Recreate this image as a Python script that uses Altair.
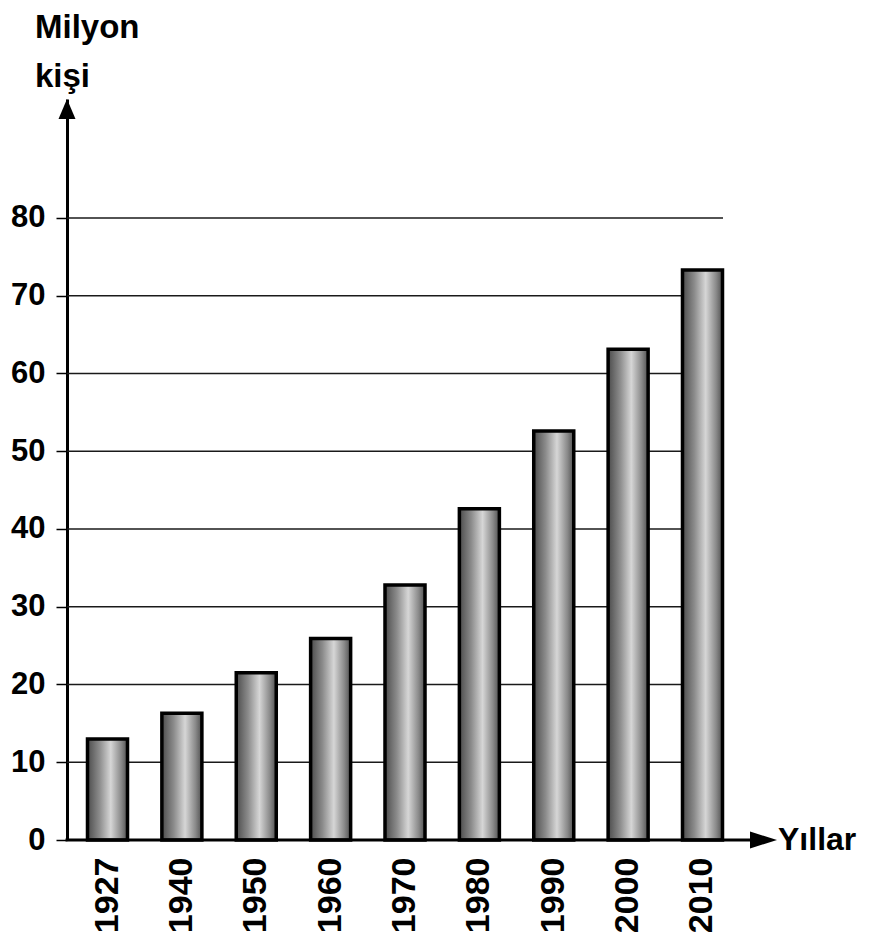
import altair as alt
import pandas as pd

# ---- data ----
years = ["1927", "1940", "1950", "1960", "1970", "1980", "1990", "2000", "2010"]
population = [13.0, 16.3, 21.5, 25.9, 32.8, 42.6, 52.6, 63.1, 73.3]
grid_values = [10, 20, 30, 40, 50, 60, 70, 80]
tick_values = [0, 10, 20, 30, 40, 50, 60, 70, 80]
y_title_lines = ["Milyon", "kişi"]
x_title = "Yıllar"

# ---- layout ----
W, H = 676, 741
Y_MAX = 95.3
FONT = "Liberation Sans"

bars_df = pd.DataFrame({"year": years, "population": population})
grid_df = pd.DataFrame({"value": grid_values})
one = pd.DataFrame({"k": [0]})

yscale = alt.Scale(domain=[0, Y_MAX], nice=False, zero=True)
xscale = alt.Scale(paddingInner=0.462, paddingOuter=0.2756)

y_axis = alt.Axis(values=tick_values, labelFontSize=31, labelFont=FONT,
                  labelFontWeight="bold", labelColor="black",
                  tickSize=11, tickWidth=1.5, tickColor="black",
                  labelPadding=11, domain=True, domainWidth=3,
                  domainColor="black", grid=False, title=None)

gradient = alt.LinearGradient(
    gradient="linear", x1=0, x2=1, y1=0, y2=0,
    stops=[
        alt.GradientStop(color="#4c4c4c", offset=0),
        alt.GradientStop(color="#8c8c8c", offset=0.3),
        alt.GradientStop(color="#d6d6d6", offset=0.58),
        alt.GradientStop(color="#8a8a8a", offset=0.84),
        alt.GradientStop(color="#505050", offset=1),
    ],
)

grid = alt.Chart(grid_df).mark_rule(color="#1a1a1a", strokeWidth=1.5).encode(
    x=alt.value(0), x2=alt.value(656),
    y=alt.Y("value:Q", scale=yscale, axis=y_axis, title=None),
)

bars = alt.Chart(bars_df).mark_bar(color=gradient, stroke="black", strokeWidth=3.5).encode(
    x=alt.X("year:N", sort=years, scale=xscale, title=None,
            axis=alt.Axis(labelAngle=270, labelFontSize=34, labelFont=FONT,
                          labelFontWeight="bold", labelColor="black",
                          labelPadding=17, ticks=False, domain=False)),
    y=alt.Y("population:Q", scale=yscale, title=None, axis=y_axis),
)

xline = alt.Chart(one).mark_rule(color="black", strokeWidth=3).encode(
    x=alt.value(-1.5), x2=alt.value(686), y=alt.value(H)
)

yarrow = alt.Chart(one).mark_point(
    shape="M0,-1L0.85,1L-0.85,1Z", filled=True, color="black", opacity=1, size=400
).encode(x=alt.value(0), y=alt.value(10))

xarrow = alt.Chart(one).mark_point(
    shape="M1,0L-1,-0.63L-1,0.63Z", filled=True, color="black", opacity=1, size=729
).encode(x=alt.value(696.5), y=alt.value(H))

t1 = alt.Chart(one).mark_text(
    text=y_title_lines[0], font=FONT, fontSize=33, fontWeight="bold", color="black",
    align="left", baseline="alphabetic"
).encode(x=alt.value(-32), y=alt.value(-61))

t2 = alt.Chart(one).mark_text(
    text=y_title_lines[1], font=FONT, fontSize=33, fontWeight="bold", color="black",
    align="left", baseline="alphabetic"
).encode(x=alt.value(-32), y=alt.value(-12))

t3 = alt.Chart(one).mark_text(
    text=x_title, font=FONT, fontSize=32, fontWeight="bold", color="black",
    align="left", baseline="alphabetic"
).encode(x=alt.value(711), y=alt.value(751))

chart = alt.layer(grid, bars, xline, yarrow, xarrow, t1, t2, t3).properties(
    width=W, height=H,
    autosize=alt.AutoSizeParams(type="none"),
    padding={"left": 59, "top": 91, "right": 122, "bottom": 100},
).configure_view(stroke=None)

chart.save("out.html", embed_options={"renderer": "svg", "actions": False})
